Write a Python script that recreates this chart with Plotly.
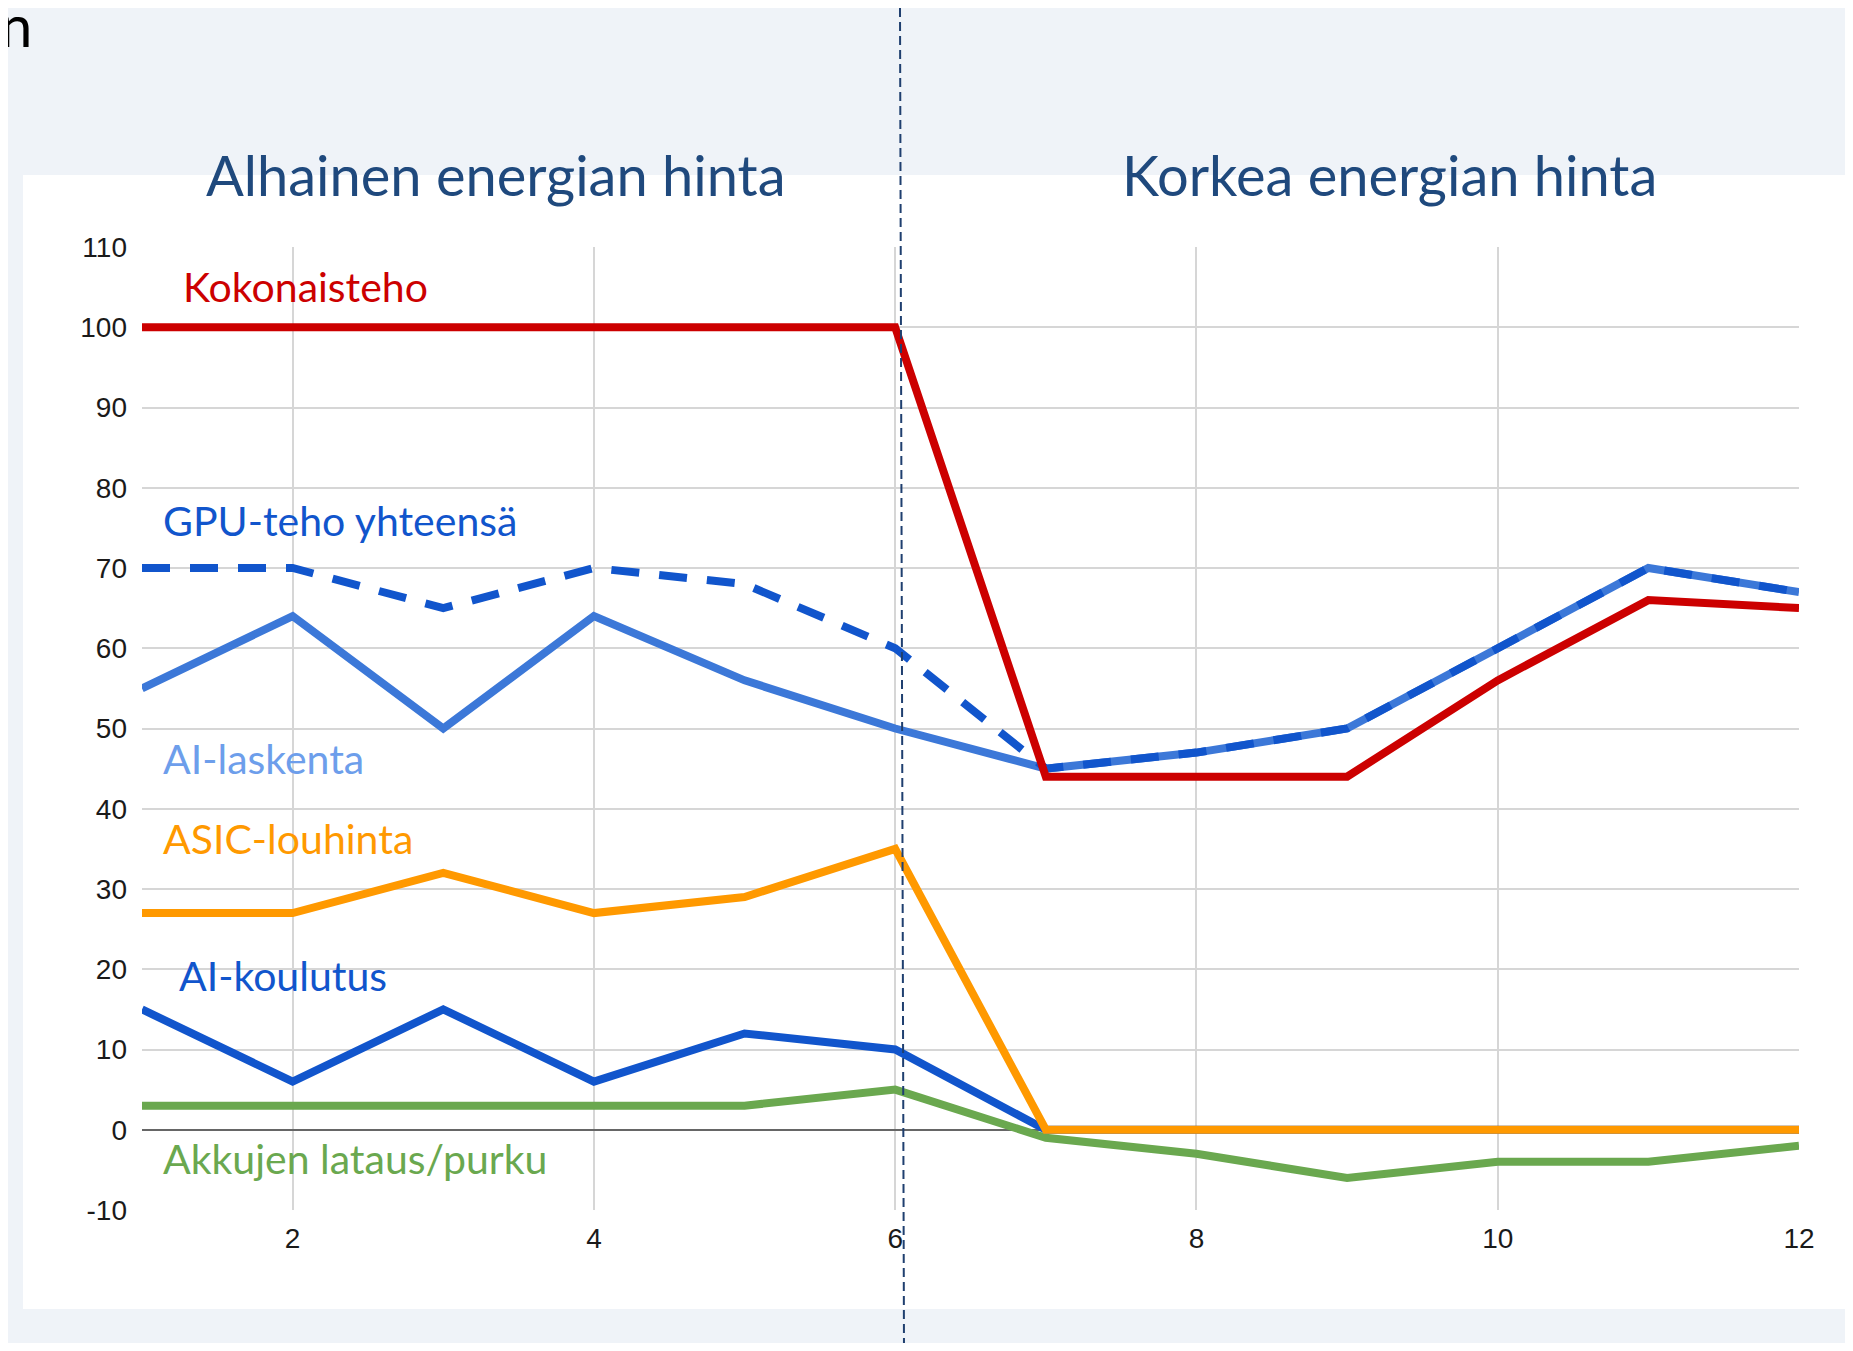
import plotly.graph_objects as go

# hours / steps on the x axis
x = list(range(1, 13))

kokonaisteho = [100, 100, 100, 100, 100, 100, 44, 44, 44, 56, 66, 65]
gpu_yht = [70, 70, 65, 70, 68, 60, 45, 47, 50, 60, 70, 67]
ai_laskenta = [55, 64, 50, 64, 56, 50, 45, 47, 50, 60, 70, 67]
asic = [27, 27, 32, 27, 29, 35, 0, 0, 0, 0, 0, 0]
ai_koulutus = [15, 6, 15, 6, 12, 10, 0, 0, 0, 0, 0, 0]
akut = [3, 3, 3, 3, 3, 5, -1, -3, -6, -4, -4, -2]

x_ticks = [2, 4, 6, 8, 10, 12]
y_ticks = list(range(-10, 111, 10))
y_ticktext = [str(v) for v in y_ticks]

# page has 8px body margin -> figure is a bit smaller and shifted
OFF = 8
W, H = 1837, 1335
L, R, T, B = 134, 46, 239, 133


def px(xp):
    return (xp - OFF - L) / (W - L - R)


def py(yp):
    return (H - B - (yp - OFF)) / (H - T - B)


fig = go.Figure()
lw = 8
fig.add_trace(go.Scatter(x=x, y=ai_laskenta, mode="lines", line=dict(color="#3C78D8", width=lw)))
fig.add_trace(go.Scatter(x=x, y=ai_koulutus, mode="lines", line=dict(color="#1155CC", width=lw)))
fig.add_trace(go.Scatter(x=x, y=akut, mode="lines", line=dict(color="#6AA84F", width=lw)))
fig.add_trace(go.Scatter(x=x, y=asic, mode="lines", line=dict(color="#FF9900", width=lw)))
fig.add_trace(go.Scatter(x=x, y=gpu_yht, mode="lines", line=dict(color="#1155CC", width=lw, dash="28px,20px")))
fig.add_trace(go.Scatter(x=x, y=kokonaisteho, mode="lines", line=dict(color="#CC0000", width=lw)))

# white card behind the chart
fig.add_shape(type="rect", xref="paper", yref="paper", x0=px(23), x1=px(1860), y0=py(1309), y1=py(175),
              fillcolor="white", line_width=0, layer="below")
# divider between low and high price
fig.add_shape(type="line", xref="paper", yref="paper", x0=px(900), x1=px(904), y0=py(8), y1=py(1351),
              line=dict(color="#1F3F6F", width=2, dash="9px,5px"))

title_font = dict(family="Lato, Open Sans, sans-serif", size=56, color="#1F497D")
fig.add_annotation(text="Alhainen energian hinta", x=px(496), y=py(174), xref="paper", yref="paper",
                   xanchor="center", yanchor="middle", showarrow=False, font=title_font)
fig.add_annotation(text="Korkea energian hinta", x=px(1389), y=py(174), xref="paper", yref="paper",
                   xanchor="center", yanchor="middle", showarrow=False, font=title_font)
fig.add_annotation(text="n", x=px(34), y=py(25), xref="paper", yref="paper", xanchor="right",
                   yanchor="middle", showarrow=False,
                   font=dict(family="Lato, sans-serif", size=58, color="black"))

labels = [
    ("Kokonaisteho", 181, 286, "#CC0000"),
    ("GPU-teho yhteensä", 161, 520, "#1155CC"),
    ("AI-laskenta", 161, 758, "#6D9EEB"),
    ("ASIC-louhinta", 161, 839, "#FF9900"),
    ("AI-koulutus", 177, 975, "#1155CC"),
    ("Akkujen lataus/purku", 161, 1158, "#6AA84F"),
]
for txt, lx, ly, col in labels:
    fig.add_annotation(text=txt, x=px(lx), y=py(ly), xref="paper", yref="paper", xanchor="left",
                       yanchor="middle", showarrow=False,
                       font=dict(family="Lato, Open Sans, sans-serif", size=41, color=col))

tick_font = dict(family="Liberation Sans, Arial, sans-serif", size=28, color="#1A1A1A")
fig.update_xaxes(range=[1, 12], tickvals=x_ticks, showgrid=True, gridcolor="#D6D6D6", gridwidth=2,
                 zeroline=False, showline=False, tickfont=tick_font, ticks="", ticklabelstandoff=9)
fig.update_yaxes(range=[-10, 110], tickvals=y_ticks, ticktext=y_ticktext, showgrid=True,
                 gridcolor="#D6D6D6", gridwidth=2, zeroline=True, zerolinecolor="#666666",
                 zerolinewidth=2, tickfont=tick_font, ticks="", ticklabelstandoff=14)

fig.update_layout(width=W, height=H, margin=dict(l=L, r=R, t=T, b=B), showlegend=False,
                  paper_bgcolor="#EFF3F8", plot_bgcolor="rgba(0,0,0,0)")

fig.write_html("out.html")
